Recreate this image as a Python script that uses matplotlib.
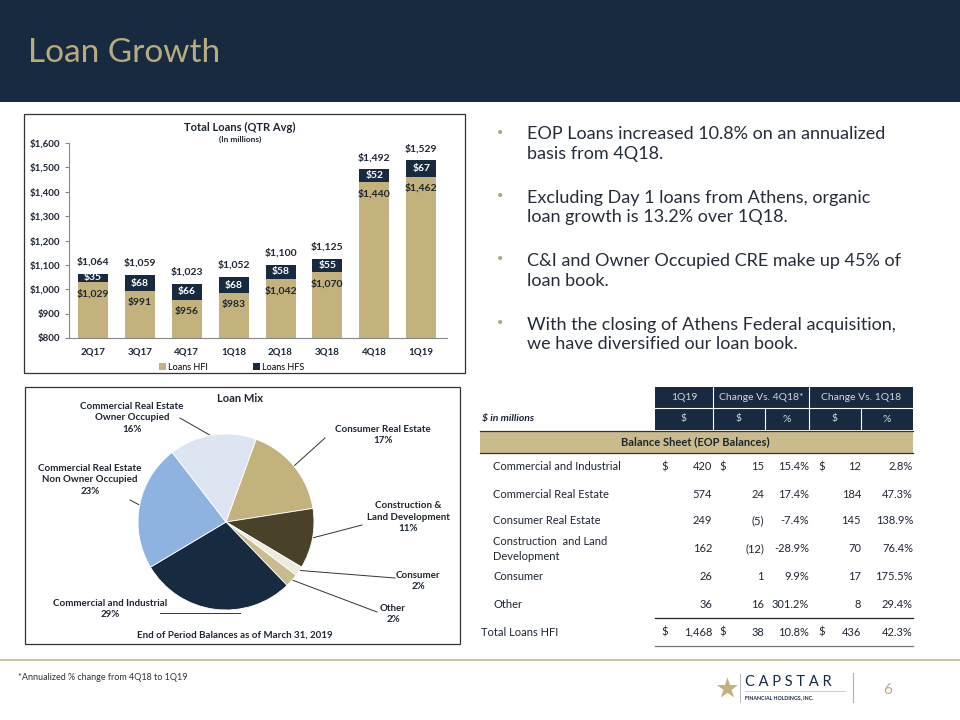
import numpy as np
import matplotlib
matplotlib.use("Agg")
import matplotlib.pyplot as plt
from matplotlib.patches import Rectangle

plt.rcParams['font.family'] = ['Lato', 'DejaVu Sans']

# ---- data ----
quarters = ['2Q17', '3Q17', '4Q17', '1Q18', '2Q18', '3Q18', '4Q18', '1Q19']
loans_hfi = [1029, 991, 956, 983, 1042, 1070, 1440, 1462]
loans_hfs = [35, 68, 66, 68, 58, 55, 52, 67]
loans_total = [1064, 1059, 1023, 1052, 1100, 1125, 1492, 1529]
y_ticks = [800, 900, 1000, 1100, 1200, 1300, 1400, 1500, 1600]

mix_names = ['Consumer Real Estate', 'Construction &\nLand Development', 'Consumer', 'Other',
             'Commercial and Industrial', 'Commercial Real Estate\nNon Owner Occupied',
             'Commercial Real Estate\nOwner Occupied']
mix_values = [249, 162, 26, 36, 420, 339, 235]
mix_colors = ['#c4b27d', '#4a4129', '#ecebe0', '#c9bb8e', '#172a40', '#8eb3e1', '#dce5f1']

bullets = ["EOP Loans increased 10.8% on an annualized\nbasis from 4Q18.",
           "Excluding Day 1 loans from Athens, organic\nloan growth is 13.2% over 1Q18.",
           "C&I and Owner Occupied CRE make up 45% of\nloan book.",
           "With the closing of Athens Federal acquisition,\nwe have diversified our loan book."]

row_labels = ['Commercial and Industrial', 'Commercial Real Estate', 'Consumer Real Estate',
              'Construction  and Land\nDevelopment', 'Consumer', 'Other']
bal_1q19 = [420, 574, 249, 162, 26, 36]
chg_4q18 = [15, 24, -5, -12, 1, 16]
chg_4q18_pct = [15.4, 17.4, -7.4, -28.9, 9.9, 301.2]
chg_1q18 = [12, 184, 145, 70, 17, 8]
chg_1q18_pct = [2.8, 47.3, 138.9, 76.4, 175.5, 29.4]
total_row = [1468, 38, 10.8, 436, 42.3]

navy = '#172a40'
tan = '#c4b27d'
ink = '#1e2633'

fig = plt.figure(figsize=(9.6, 7.2), dpi=100)
bg = fig.add_axes([0, 0, 1, 1])
bg.set_xlim(0, 960)
bg.set_ylim(720, 0)
bg.axis('off')

# header
bg.add_patch(Rectangle((0, 0), 960, 102, color=navy, lw=0))
bg.text(28, 53, 'Loan Growth', fontsize=24, color='#b8ab7c', va='center', ha='left')

# boxes
bg.add_patch(Rectangle((24, 114), 441, 259, fill=False, ec='#333333', lw=0.9))
bg.add_patch(Rectangle((25, 387), 435, 257, fill=False, ec='#333333', lw=0.9))

# ---- bar chart ----
ax = fig.add_axes([69/960, 1-338/720, (447-69)/960, (338-143)/720])
ax.patch.set_alpha(0)
x = np.arange(len(quarters))
ax.bar(x, loans_hfi, width=0.64, color=tan, label='Loans HFI')
ax.bar(x, loans_hfs, width=0.64, bottom=loans_hfi, color=navy, label='Loans HFS')
for i in range(len(quarters)):
    ax.annotate('${:,}'.format(loans_total[i]), (x[i], loans_hfi[i] + loans_hfs[i]),
                xytext=(0, 5), textcoords='offset points', ha='center', va='bottom',
                fontsize=7.5, fontweight='bold', color=ink)
    ax.text(x[i], loans_hfi[i] + loans_hfs[i]/2, '${:,}'.format(loans_hfs[i]), ha='center',
            va='center', fontsize=7.5, fontweight='bold', color='white')
    ax.annotate('${:,}'.format(loans_hfi[i]), (x[i], loans_hfi[i]), xytext=(0, -5),
                textcoords='offset points', ha='center', va='top',
                fontsize=7.5, fontweight='bold', color=ink)
ax.set_ylim(800, 1600)
ax.set_xlim(-0.51, 7.55)
ax.set_yticks(y_ticks)
ax.set_yticklabels(['${:,}'.format(v) for v in y_ticks], fontsize=7, fontweight='bold', color=ink)
ax.set_xticks(x)
ax.set_xticklabels(quarters, fontsize=7, fontweight='bold', color=ink)
ax.tick_params(axis='x', length=0, pad=7)
ax.tick_params(axis='y', length=3, color='#888888', pad=3)
for s in ['top', 'right']:
    ax.spines[s].set_visible(False)
ax.spines['left'].set_color('#888888')
ax.spines['bottom'].set_color('#888888')
ax.legend(loc='center', bbox_to_anchor=(232/960, 1-367/720), bbox_transform=fig.transFigure,
          ncol=2, frameon=False, fontsize=6.5, handlelength=0.7, handleheight=0.7,
          handletextpad=0.3, columnspacing=5)
bg.text(240, 127, 'Total Loans (QTR Avg)', fontsize=8, fontweight='bold', color=ink,
        ha='center', va='center')
bg.text(240, 139, '(In millions)', fontsize=6, fontweight='bold', color=ink,
        ha='center', va='center')

# ---- pie ----
cx, cy, r = 226, 522, 88
pa = fig.add_axes([(cx-r)/960, 1-(cy+r)/720, 2*r/960, 2*r/720])
wedges, _ = pa.pie(mix_values, colors=mix_colors, startangle=70, counterclock=False,
                   wedgeprops=dict(edgecolor='white', linewidth=0.6))
pa.set_xlim(-1, 1)
pa.set_ylim(-1, 1)
pa.set_aspect('equal')

mix_pct = [round(100*v/sum(mix_values)) for v in mix_values]
label_xy = [(383, 435), (408, 517), (418, 581), (393, 614), (110, 609), (90, 480), (132, 418)]
leader_from = [(325, 438), (362, 525), (395, 578), (377, 612), (160, 613), (130, 500), (180, 418)]
for i, w in enumerate(wedges):
    mid = np.deg2rad((w.theta1 + w.theta2) / 2)
    px, py = cx + 0.98*r*np.cos(mid), cy - 0.98*r*np.sin(mid)
    if i == 4:
        px, py = 240, leader_from[i][1]
    bg.plot([leader_from[i][0], px], [leader_from[i][1], py], color='#333333', lw=0.7)
    bg.text(label_xy[i][0], label_xy[i][1], '{}\n{}%'.format(mix_names[i], mix_pct[i]),
            fontsize=7, fontweight='bold', color=ink, ha='center', va='center',
            linespacing=1.35)
bg.text(240, 398, 'Loan Mix', fontsize=8, fontweight='bold', color=ink, ha='center', va='center')
bg.text(235, 635, 'End of Period Balances as of March 31, 2019', fontsize=7, fontweight='bold',
        color=ink, ha='center', va='center')

# ---- bullets ----
for i, b in enumerate(bullets):
    yb = 132 + i*63.5
    bg.text(497, yb, u'\u2022', fontsize=8, color='#b0a47c', ha='left', va='center')
    bg.text(527, yb + 12, b, fontsize=13, color='#252d3a', ha='left', va='center',
            linespacing=1.25)

# ---- table ----
col_edges = [655, 713, 765, 809, 861, 913]
bg.add_patch(Rectangle((655, 387), 258, 43, color=navy, lw=0))
for xe in col_edges[1:-1]:
    y0 = 387 if xe in (713, 809) else 408
    bg.plot([xe, xe], [y0, 430], color='white', lw=0.8)
bg.plot([655, 913], [408, 408], color='white', lw=0.8)
top_heads = [('1Q19', 655, 713), ('Change Vs. 4Q18*', 713, 809), ('Change Vs. 1Q18', 809, 913)]
for t, a, b in top_heads:
    bg.text((a+b)/2, 398, t, fontsize=7.5, color='#d4d4d4', ha='center', va='center')
for j, t in enumerate(['$', '$', '%', '$', '%']):
    bg.text((col_edges[j]+col_edges[j+1])/2, 419, t, fontsize=7.5, color='#d4d4d4',
            ha='center', va='center')
bg.text(482, 419, '$ in millions', fontsize=7.5, fontweight='bold', style='italic', color=ink,
        va='center')
bg.add_patch(Rectangle((480, 431), 433, 22, color='#c9bb8b', lw=0))
bg.plot([480, 913], [431, 431], color='#333333', lw=0.9)
bg.plot([480, 913], [453, 453], color='#333333', lw=0.9)
bg.text(695, 442, 'Balance Sheet (EOP Balances)', fontsize=8, fontweight='bold', color=ink,
        ha='center', va='center')

row_y = [467, 494, 521, 549, 577, 605]
fsz = 8


def money(v):
    return '({:,})'.format(-v) if v < 0 else '{:,}'.format(v)


for i, lab in enumerate(row_labels):
    yy = row_y[i]
    bg.text(493, yy, lab, fontsize=fsz, color=ink, ha='left', va='center', linespacing=1.35)
    bg.text(712, yy, money(bal_1q19[i]), fontsize=fsz, color=ink, ha='right', va='center')
    bg.text(764, yy, money(chg_4q18[i]), fontsize=fsz, color=ink, ha='right', va='center')
    bg.text(809, yy, '{:.1f}%'.format(chg_4q18_pct[i]), fontsize=fsz, color=ink, ha='right', va='center')
    bg.text(861, yy, money(chg_1q18[i]), fontsize=fsz, color=ink, ha='right', va='center')
    bg.text(913, yy, '{:.1f}%'.format(chg_1q18_pct[i]), fontsize=fsz, color=ink, ha='right', va='center')
    if i == 0:
        for xs in (665, 723, 822):
            bg.text(xs, yy, '$', fontsize=fsz, color=ink, ha='center', va='center')

yt = 632
bg.plot([655, 913], [618, 618], color='#222222', lw=0.9)
bg.plot([655, 913], [646, 646], color='#777777', lw=0.9)
bg.text(481, yt, 'Total Loans HFI', fontsize=fsz, color=ink, ha='left', va='center')
for xs in (665, 723, 822):
    bg.text(xs, yt, '$', fontsize=fsz, color=ink, ha='center', va='center')
bg.text(712, yt, money(total_row[0]), fontsize=fsz, color=ink, ha='right', va='center')
bg.text(764, yt, money(total_row[1]), fontsize=fsz, color=ink, ha='right', va='center')
bg.text(809, yt, '{:.1f}%'.format(total_row[2]), fontsize=fsz, color=ink, ha='right', va='center')
bg.text(861, yt, money(total_row[3]), fontsize=fsz, color=ink, ha='right', va='center')
bg.text(913, yt, '{:.1f}%'.format(total_row[4]), fontsize=fsz, color=ink, ha='right', va='center')

# ---- footer ----
bg.plot([0, 960], [660, 660], color='#c9bb8b', lw=1.2)
bg.text(18, 677, '*Annualized % change from 4Q18 to 1Q19', fontsize=6.5, color='#333333',
        va='center')
bg.scatter([727], [688], marker='*', s=260, color='#c4b27d', lw=0)
bg.plot([740, 740], [674, 702], color='#aaaaaa', lw=0.6)
bg.text(745, 682, 'C A P S T A R', fontsize=10.5, color=navy, va='center', ha='left')
bg.plot([745, 845], [691, 691], color='#bbbbbb', lw=0.5)
bg.text(745, 698, 'FINANCIAL HOLDINGS, INC.', fontsize=3.8, fontweight='bold', color=navy,
        va='center', ha='left')
bg.plot([853, 853], [673, 702], color='#c4b27d', lw=0.8)
bg.text(888, 690, '6', fontsize=11, color='#b8ab7c', ha='center', va='center')

fig.savefig('out.png', dpi=100)
